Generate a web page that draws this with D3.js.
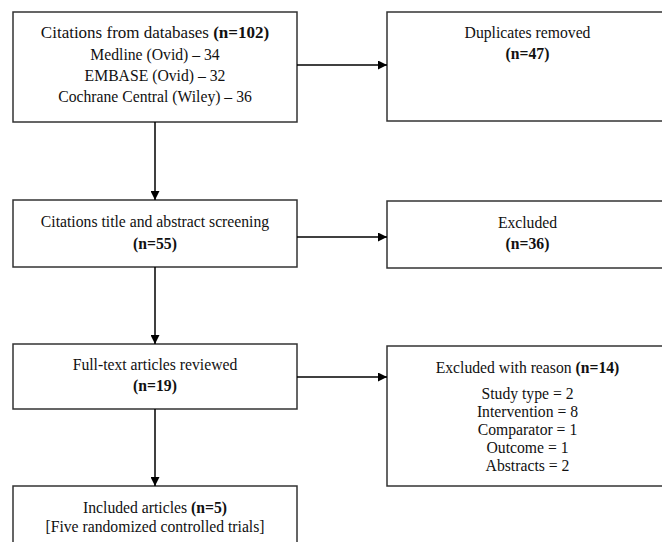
<!DOCTYPE html>
<html>
<head>
<meta charset="utf-8">
<script src="https://cdn.jsdelivr.net/npm/d3@7"></script>
<style>
  body { margin: 0; background: #fff; }
  svg { display: block; font-family: "Liberation Serif", "DejaVu Serif", serif; }
</style>
</head>
<body>
<div id="chart"></div>
<script>
// 左侧流程步骤
var stepLabels = ['Citations from databases', 'Citations title and abstract screening', 'Full-text articles reviewed', 'Included articles']
var stepCounts = [102, 55, 19, 5]
// 数据库来源
var sourceNames = ['Medline (Ovid)', 'EMBASE (Ovid)', 'Cochrane Central (Wiley)']
var sourceCounts = [34, 32, 36]
// 右侧排除框
var removedLabels = ['Duplicates removed', 'Excluded', 'Excluded with reason']
var removedCounts = [47, 36, 14]
// 排除原因
var reasonNames = ['Study type', 'Intervention', 'Comparator', 'Outcome', 'Abstracts']
var reasonCounts = [2, 8, 1, 1, 2]
var includedNote = '[Five randomized controlled trials]'

var width = 662
var height = 542
var fs = 15.7

// 布局
var leftBoxes = [[12, 122], [200, 267], [344, 409], [486, 570]]
var rightBoxes = [[12, 121], [201, 268], [346, 486]]
var linkY = [65, 237, 377]
var leftX = d3.scaleLinear().domain([0, 1]).range([13, 297])
var rightX = d3.scaleLinear().domain([0, 1]).range([387, 668])

var svg = d3.select('#chart').append('svg').attr('width', width).attr('height', height)

svg.append('defs').append('marker')
  .attr('id', 'arrow')
  .attr('viewBox', '0 0 10 10')
  .attr('refX', 10).attr('refY', 5)
  .attr('markerWidth', 9).attr('markerHeight', 9)
  .attr('markerUnits', 'userSpaceOnUse')
  .attr('orient', 'auto')
  .append('path').attr('d', 'M0,0L10,5L0,10Z').attr('fill', '#000')

// 方框
svg.selectAll('rect.left').data(leftBoxes).enter().append('rect')
  .attr('class', 'left')
  .attr('x', leftX(0)).attr('y', function(d) { return d[0] })
  .attr('width', leftX(1) - leftX(0)).attr('height', function(d) { return d[1] - d[0] })
  .attr('fill', '#fff').attr('stroke', '#333').attr('stroke-width', 1.5)

svg.selectAll('rect.right').data(rightBoxes).enter().append('rect')
  .attr('class', 'right')
  .attr('x', rightX(0)).attr('y', function(d) { return d[0] })
  .attr('width', rightX(1) - rightX(0)).attr('height', function(d) { return d[1] - d[0] })
  .attr('fill', '#fff').attr('stroke', '#333').attr('stroke-width', 1.5)

// 竖向箭头
var cx = leftX(0.5)
for (var i = 0; i < leftBoxes.length - 1; i++) {
  svg.append('line')
    .attr('x1', cx).attr('x2', cx)
    .attr('y1', leftBoxes[i][1]).attr('y2', leftBoxes[i + 1][0])
    .attr('stroke', '#000').attr('stroke-width', 1.5)
    .attr('marker-end', 'url(#arrow)')
}

// 横向箭头
linkY.forEach(function(y) {
  svg.append('line')
    .attr('x1', leftX(1)).attr('x2', rightX(0))
    .attr('y1', y).attr('y2', y)
    .attr('stroke', '#000').attr('stroke-width', 1.5)
    .attr('marker-end', 'url(#arrow)')
})

function addLine(x, y, parts, size) {
  var t = svg.append('text')
    .attr('x', x).attr('y', y)
    .attr('text-anchor', 'middle')
    .attr('dominant-baseline', 'central')
    .attr('font-size', size || fs)
    .attr('fill', '#111')
  parts.forEach(function(p) {
    t.append('tspan').text(p[0]).attr('font-weight', p[1] ? 'bold' : 'normal')
  })
}

var rx = rightX(0.5)

// 第一框
addLine(cx, 32, [[stepLabels[0] + ' ', false], ['(n=' + stepCounts[0] + ')', true]], 17)
var srcY = d3.scalePoint().domain(sourceNames).range([54, 96])
sourceNames.forEach(function(name, i) {
  addLine(cx, srcY(name), [[name + ' \u2013 ' + sourceCounts[i], false]])
})

// 第二、三框
addLine(cx, 221, [[stepLabels[1], false]])
addLine(cx, 243, [['(n=' + stepCounts[1] + ')', true]])
addLine(cx, 364, [[stepLabels[2], false]])
addLine(cx, 385, [['(n=' + stepCounts[2] + ')', true]])

// 第四框
addLine(cx, 507, [[stepLabels[3] + ' ', false], ['(n=' + stepCounts[3] + ')', true]])
addLine(cx, 526, [[includedNote, false]])

// 右侧
addLine(rx, 32, [[removedLabels[0], false]])
addLine(rx, 53, [['(n=' + removedCounts[0] + ')', true]])
addLine(rx, 222, [[removedLabels[1], false]])
addLine(rx, 243, [['(n=' + removedCounts[1] + ')', true]])
addLine(rx, 367, [[removedLabels[2] + ' ', false], ['(n=' + removedCounts[2] + ')', true]])
var reasonY = d3.scalePoint().domain(reasonNames).range([393, 465])
reasonNames.forEach(function(name, i) {
  addLine(rx, reasonY(name), [[name + ' = ' + reasonCounts[i], false]])
})
</script>
</body>
</html>
